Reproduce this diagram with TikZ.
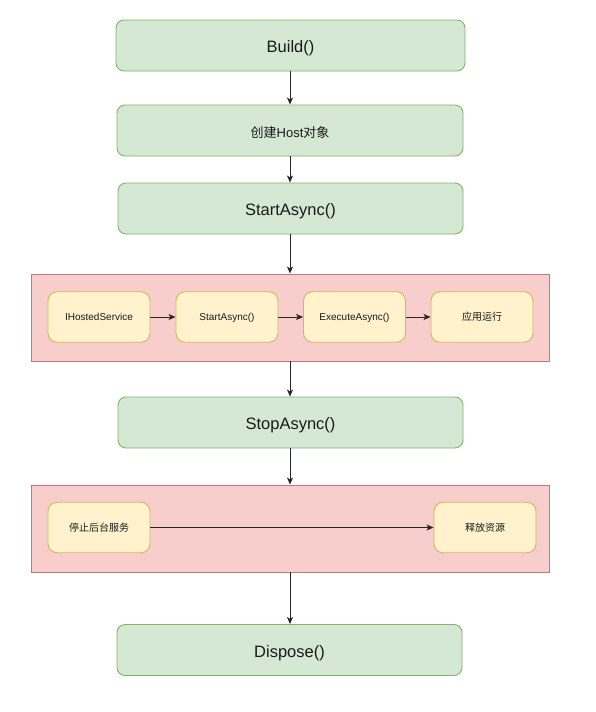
\documentclass[tikz,border=0pt]{standalone}
\usepackage{fontspec}
\setmainfont{Liberation Sans}
\newfontfamily\cjk{Noto Sans CJK SC}
\usetikzlibrary{arrows.meta}
\definecolor{gfill}{HTML}{D5E8D4}
\definecolor{gline}{HTML}{82B366}
\definecolor{yfill}{HTML}{FFF2CC}
\definecolor{yline}{HTML}{D6B656}
\definecolor{rfill}{HTML}{F8CECC}
\definecolor{rline}{HTML}{B85450}
\definecolor{txt}{HTML}{1A1A1A}
\begin{document}
\begin{tikzpicture}[x=1pt,y=-1pt,
  gbox/.style={draw=gline,fill=gfill,line width=0.9pt,rounded corners=8pt,
    minimum width=345pt,minimum height=51pt,inner sep=0pt,text=txt,
    text height=14.4pt,text depth=0pt,
    font=\fontsize{16.5}{20}\selectfont},
  ybox/.style={draw=yline,fill=yfill,line width=0.9pt,rounded corners=9pt,
    minimum width=102pt,minimum height=50.5pt,inner sep=0pt,text=txt,
    text height=7.3pt,text depth=0pt,
    font=\fontsize{10}{12}\selectfont},
  rbox/.style={draw=rline!80,fill=rfill,line width=0.9pt,
    minimum width=518pt,minimum height=87pt,inner sep=0pt},
  arr/.style={draw=black!85,line width=0.9pt,-{Stealth[length=7pt,width=6pt,inset=1.8pt]}}
]
\useasboundingbox (0,0) rectangle (595,712);

\node[gbox,minimum width=349pt] (build) at (290.5,45.5) {Build()};
\node[gbox,minimum width=346pt,font=\fontsize{13}{16}\selectfont] (host) at (290,130.5) {{\cjk 创建}Host{\cjk 对象}};
\node[gbox] (start) at (290.5,208.5) {StartAsync()};

\node[rbox] (red1) at (290,317.5) {};
\node[ybox] (ihs) at (99,317) {IHostedService};
\node[ybox] (sa) at (227,317) {StartAsync()};
\node[ybox] (ea) at (354.5,317) {ExecuteAsync()};
\node[ybox] (run) at (482,317) {\cjk 应用运行};

\node[gbox] (stop) at (290.5,422.5) {StopAsync()};

\node[rbox] (red2) at (290,528.5) {};
\node[ybox] (stopbg) at (99,527.5) {\cjk 停止后台服务};
\node[ybox] (rel) at (485,527.5) {\cjk 释放资源};

\node[gbox] (dispose) at (289.5,650) {Dispose()};

\draw[arr] (build.south -| 290,0) -- (host.north -| 290,0);
\draw[arr] (host.south -| 290,0) -- (start.north -| 290,0);
\draw[arr] (start.south -| 290,0) -- (red1.north -| 290,0);
\draw[arr] (red1.south -| 290,0) -- (stop.north -| 290,0);
\draw[arr] (stop.south -| 290,0) -- (red2.north -| 290,0);
\draw[arr] (red2.south -| 290,0) -- (dispose.north -| 290,0);

\draw[arr] (ihs) -- (sa);
\draw[arr] (sa) -- (ea);
\draw[arr] (ea) -- (run);
\draw[arr] (stopbg) -- (rel);
\end{tikzpicture}
\end{document}
